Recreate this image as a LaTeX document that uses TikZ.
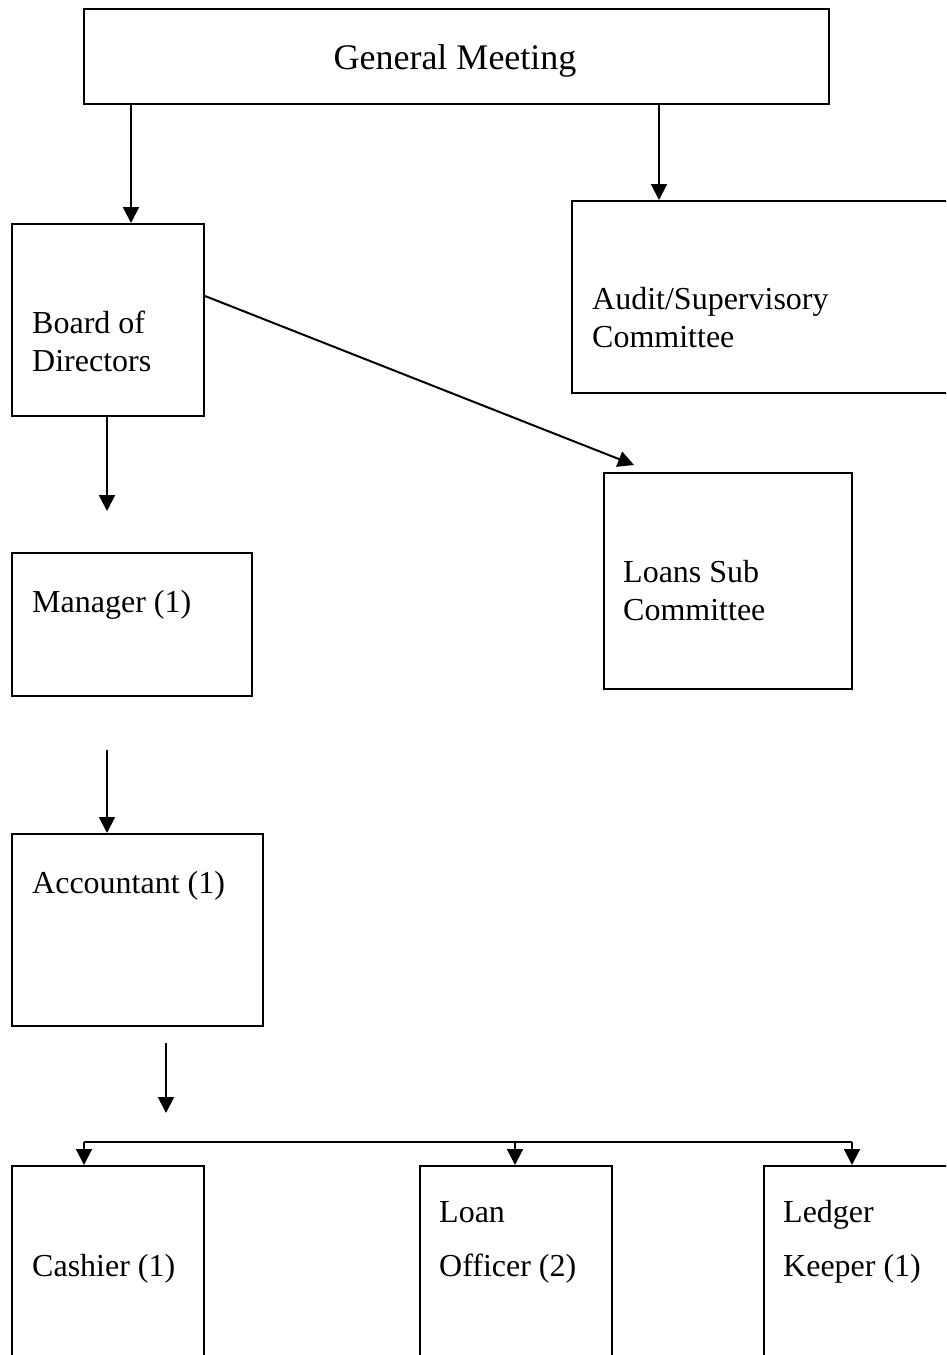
\documentclass[tikz,border=0pt]{standalone}
\usepackage{fontspec}
\setmainfont{Liberation Serif}
\usetikzlibrary{arrows.meta}
\begin{document}
\begin{tikzpicture}[x=1pt,y=-1pt,
  box/.style={draw, line width=2pt, inner sep=0pt, anchor=north west},
  lbl/.style={inner sep=0pt, anchor=base west, align=left, font=\fontsize{32}{38}\selectfont},
  arr/.style={line width=2pt, -{Triangle[width=16pt,length=16pt]}},
  con/.style={line width=2pt}]
\useasboundingbox (0,0) rectangle (946,1355);
\clip (0,0) rectangle (946,1355);
% boxes
\node[box, minimum width=745pt, minimum height=95pt] (gm) at (83,8) {};
\node[box, minimum width=192pt, minimum height=192pt] (bod) at (11,223) {};
\node[box, minimum width=420pt, minimum height=192pt] (aud) at (571,200) {};
\node[box, minimum width=248pt, minimum height=216pt] (lsc) at (603,472) {};
\node[box, minimum width=240pt, minimum height=143pt] (mgr) at (11,552) {};
\node[box, minimum width=251pt, minimum height=192pt] (acc) at (11,833) {};
\node[box, minimum width=192pt, minimum height=260pt] (cash) at (11,1165) {};
\node[box, minimum width=192pt, minimum height=260pt] (loan) at (419,1165) {};
\node[box, minimum width=260pt, minimum height=260pt] (ledg) at (763,1165) {};
% labels (multi-line labels are anchored at the baseline of their last line)
\node[inner sep=0pt, anchor=base, font=\fontsize{36}{43}\selectfont] (gmt) at (455,69) {General Meeting};
\node[lbl] (bodt) at (32,371) {Board of\\Directors};
\node[lbl] (audt) at (592,347) {Audit/Supervisory\\Committee};
\node[lbl] (lsct) at (623,620) {Loans Sub\\Committee};
\node[lbl] (mgrt) at (32,612) {Manager (1)};
\node[lbl] (acct) at (32,893) {Accountant (1)};
\node[lbl] (casht) at (32,1276) {Cashier (1)};
\node[lbl] (loant) at (439,1276) {Loan\\[16pt]Officer (2)};
\node[lbl] (ledgt) at (783,1276) {Ledger\\[16pt]Keeper (1)};
% free connector ends
\coordinate (lscin) at (634,465);
\coordinate (mgrin) at (107,511);
\coordinate (mgrout) at (107,750);
\coordinate (accout) at (166,1043);
\coordinate (accin) at (166,1113);
\coordinate (brL) at (84,1142);
\coordinate (brM) at (515,1142);
\coordinate (brR) at (852,1142);
% connectors
\draw[arr] ([xshift=48pt]gm.south west) -- ([xshift=120pt]bod.north west);
\draw[arr] ([xshift=576pt]gm.south west) -- ([xshift=88pt]aud.north west);
\draw[arr] ([yshift=-73pt]bod.north east) -- (lscin);
\draw[arr] (mgrin |- bod.south) -- (mgrin);
\draw[arr] (mgrout) -- (mgrout |- acc.north);
\draw[arr] (accout) -- (accin);
\draw[con] (brL) -- (brR);
\draw[arr] (brL) -- (brL |- cash.north);
\draw[arr] (brM) -- (brM |- loan.north);
\draw[arr] (brR) -- (brR |- ledg.north);
\end{tikzpicture}
\end{document}
